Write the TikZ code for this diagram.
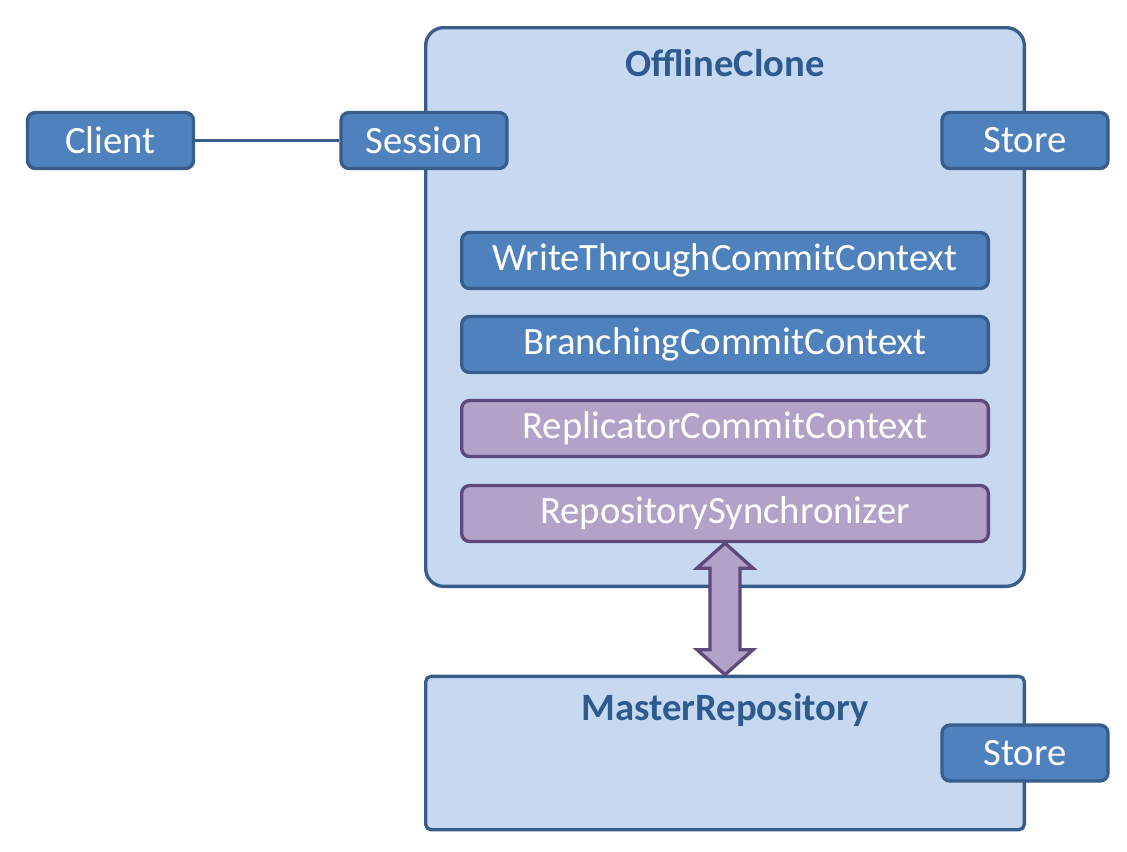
\documentclass[tikz,border=0pt]{standalone}
\usepackage{fontspec}
\setmainfont{Carlito}
\usetikzlibrary{positioning,calc}

\definecolor{partfill}{HTML}{4F81BD}
\definecolor{partline}{HTML}{385D8A}
\definecolor{panefill}{HTML}{C6D9F1}
\definecolor{replfill}{HTML}{B3A2C7}
\definecolor{replline}{HTML}{5F497A}
\definecolor{titleblue}{HTML}{2F5A8F}

\tikzset{every picture/.style={line width=2.5pt}}
\tikzset{
  pane/.style={draw=partline, fill=panefill, rounded corners=13.5pt, minimum width=449pt},
  panetitle/.style={text=titleblue, font=\fontsize{29}{33}\selectfont\bfseries, inner sep=0pt},
  part/.style={draw=partline, fill=partfill, text=white, rounded corners=6pt,
    minimum width=124.5pt, minimum height=42pt, inner sep=0pt,
    font=\fontsize{29}{33}\selectfont},
  context/.style={part, minimum width=395pt},
  repl/.style={context, draw=replline, fill=replfill},
  link/.style={draw=partline},
  syncarrow/.style={draw=replline, fill=replfill, line join=miter}
}

\begin{document}
\begin{tikzpicture}[x=0.75pt,y=0.75pt,yscale=-1,xscale=1]
\useasboundingbox (0,0) rectangle (1127,851);

% containers
\node[pane, minimum height=419pt] (clone) at (725,307) {};
\node[pane, minimum height=115pt, rounded corners=4pt] (master) at (725,753) {};
\node[panetitle] (clonetitle) at (725,63) {OfflineClone};
\node[panetitle] (mastertitle) at (725,710) {MasterRepository};

% outer parts
\node[part] (client) at (110.5,140.5) {Client};
\node[part] (session) at (424,140.5) {Session};
\node[part] (store) at (1025,140.5) {Store};
\node[part] (masterstore) at (1025,753) {Store};
\draw[link] (client) -- (session);

% commit contexts
\node[context] (writethrough) at (725,260.5) {WriteThroughCommitContext};
\node[context] (branching) at (725,344.5) {BranchingCommitContext};
\node[repl] (replicator) at (725,428.5) {ReplicatorCommitContext};
\node[repl] (sync) at (725,513.5) {RepositorySynchronizer};

% synchronisation arrow
\draw[syncarrow] (sync.south) -- ++(28,25) -- ++(-13,0)
  -- ($(master.north)+(15,-25)$) -- ++(13,0) -- (master.north)
  -- ++(-28,-25) -- ++(13,0) -- ($(sync.south)+(-15,25)$) -- ++(-13,0) -- cycle;

\end{tikzpicture}
\end{document}
